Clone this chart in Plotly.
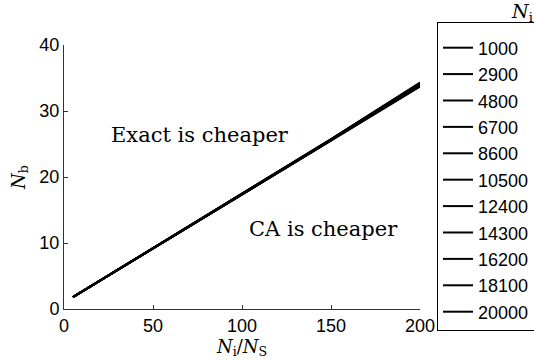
import plotly.graph_objects as go

# Number of interior points N_i for each curve
n_interior = [1000, 2900, 4800, 6700, 8600, 10500, 12400, 14300, 16200, 18100, 20000]

# Ratio N_i / N_s at which the break-even N_b is evaluated
ratio = [5, 50, 100, 150, 200]

# Break-even N_b for each N_i (one row per curve)
nb_breakeven = [
    [1.80, 9.25, 17.50, 25.75, 34.30],
    [1.80, 9.24, 17.48, 25.72, 34.24],
    [1.80, 9.23, 17.46, 25.69, 34.18],
    [1.80, 9.22, 17.44, 25.66, 34.12],
    [1.80, 9.21, 17.42, 25.63, 34.06],
    [1.80, 9.20, 17.40, 25.60, 34.00],
    [1.80, 9.19, 17.38, 25.57, 33.94],
    [1.80, 9.18, 17.36, 25.54, 33.88],
    [1.80, 9.17, 17.34, 25.51, 33.82],
    [1.80, 9.16, 17.32, 25.48, 33.76],
    [1.80, 9.15, 17.30, 25.45, 33.70],
]

x_ticks = [0, 50, 100, 150, 200]
y_ticks = [0, 10, 20, 30, 40]

fig = go.Figure()
for n, nb in zip(n_interior, nb_breakeven):
    fig.add_trace(go.Scatter(
        x=ratio, y=nb, mode="lines", name=str(n),
        line=dict(color="black", width=2),
    ))

axis_common = dict(
    showgrid=False, zeroline=False, showline=True,
    linecolor="#333", linewidth=1,
    ticks="inside", ticklen=4, tickcolor="#333",
    tickfont=dict(family="Liberation Sans, Arial", size=18, color="black"),
)

# Plot area spans the full paper height so the tall legend is not scrolled;
# the y domain keeps the axes in their place.
fig.update_layout(
    width=534, height=361,
    margin=dict(l=64, r=114, t=0, b=40, autoexpand=False),
    plot_bgcolor="white", paper_bgcolor="white",
    showlegend=True,
    legend=dict(
        x=1.0478, y=0.9315, xanchor="left", yanchor="top",
        bordercolor="black", borderwidth=1, bgcolor="white",
        font=dict(family="Liberation Sans, Arial", size=18, color="black"),
        title=dict(text=" ", font=dict(size=5)),
    ),
    xaxis=dict(range=[0, 200], tickvals=x_ticks, **axis_common,
               title=dict(text="<i>N</i><sub>i</sub>/<i>N</i><sub>S</sub>",
                          font=dict(family="DejaVu Serif", size=18, color="black"),
                          standoff=0)),
    yaxis=dict(range=[0, 40], tickvals=y_ticks, domain=[12 / 321, 276 / 321],
               **axis_common,
               title=dict(text="<i>N</i><sub>b</sub>",
                          font=dict(family="DejaVu Serif", size=18, color="black"),
                          standoff=9)),
    annotations=[
        dict(x=76.4, y=26.4, xref="x", yref="y", text="Exact is cheaper",
             showarrow=False,
             font=dict(family="DejaVu Serif", size=21, color="black")),
        dict(x=146, y=12.1, xref="x", yref="y", text="CA is cheaper",
             showarrow=False,
             font=dict(family="DejaVu Serif", size=21, color="black")),
        dict(x=1.2865, y=0.9626, xref="paper", yref="paper",
             text="<i>N</i><sub>i</sub>", showarrow=False,
             xanchor="center", yanchor="middle",
             font=dict(family="DejaVu Serif", size=19, color="black")),
    ],
)

fig.write_html("out.html")
